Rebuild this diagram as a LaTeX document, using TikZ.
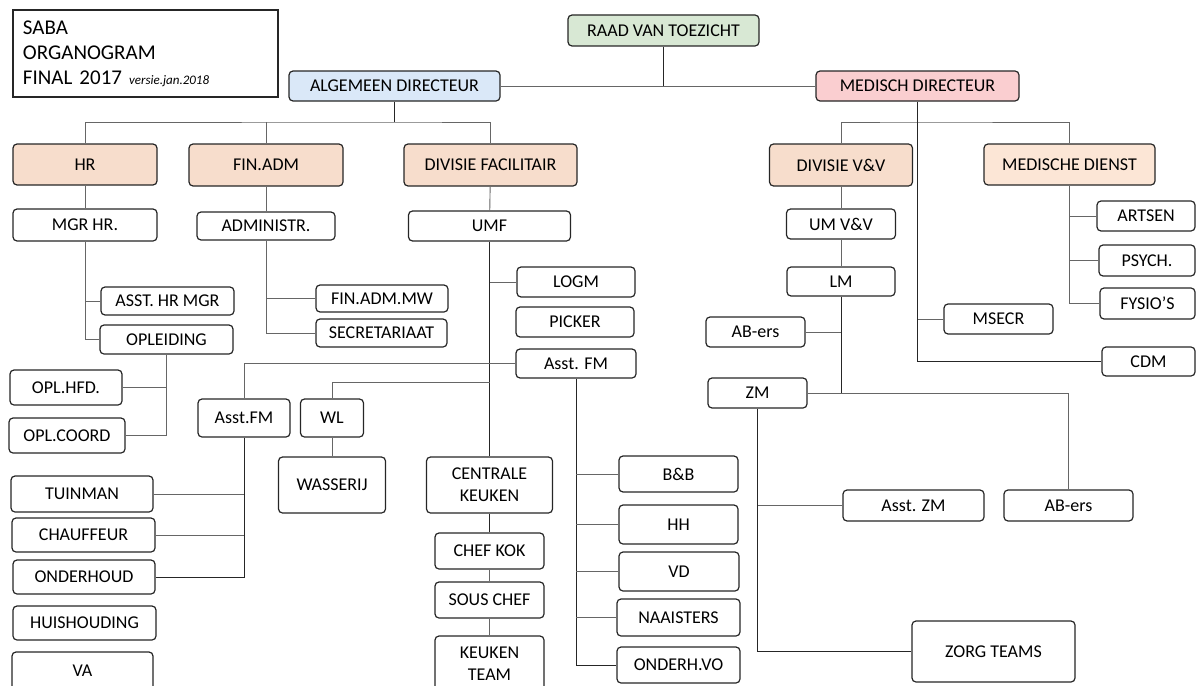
\documentclass[tikz,border=0pt]{standalone}
\usepackage{fontspec}
\setmainfont{Carlito}
\usetikzlibrary{positioning}

\definecolor{raadgreen}{RGB}{216,232,212}
\definecolor{dirblue}{RGB}{218,232,248}
\definecolor{dirpink}{RGB}{250,206,208}
\definecolor{divpeach}{RGB}{247,221,204}
\definecolor{dienstpeach}{RGB}{252,230,214}

\tikzset{
  orgbox/.style={draw=black!85, line width=1.2pt, rounded corners=4pt, inner sep=0pt,
    align=center, text=black, font=\fontsize{18}{22}\selectfont},
  link/.style={draw=black!60, line width=0.9pt},
  linkdark/.style={draw=black!85, line width=0.9pt},
}

\begin{document}
\begin{tikzpicture}[x=1pt,y=-1pt]
  \useasboundingbox (0,0) rectangle (1196,685);
  % title block
  \node[draw=black!85, line width=1.2pt, minimum height=87pt, text width=245pt, inner xsep=10pt,
    align=left, font=\fontsize{21}{25}\selectfont] (title) at (145.5,53.5)
    {SABA\\ORGANOGRAM\\FINAL 2017 {\fontsize{13}{15}\selectfont\itshape versie.jan.2018}};
  % boxes: name/x/y/width/height/fill/text
  \foreach \nm/\cx/\cy/\bw/\bh/\bcol/\btxt in {
    raad/663.5/30.5/191/31/raadgreen/{RAAD VAN TOEZICHT},
    alg/394.5/86/211/30/dirblue/{ALGEMEEN DIRECTEUR},
    med/917.5/86/203/30/dirpink/{MEDISCH DIRECTEUR},
    hr/85/164.5/144/41/divpeach/{HR},
    fin/266/165/154/42/divpeach/{FIN.ADM},
    fac/490.5/165/173/42/divpeach/{DIVISIE FACILITAIR},
    vv/841/165/143/42/divpeach/{DIVISIE V\&V},
    mdienst/1069.5/164.5/171/41/dienstpeach/{MEDISCHE DIENST},
    mgrhr/85/225/144/32/white/{MGR HR.},
    adm/266/226/138/28/white/{ADMINISTR.},
    umf/489.5/226/162/30/white/{UMF},
    umvv/841/224/109/30/white/{UM V\&V},
    artsen/1146/216/98/30/white/{ARTSEN},
    psych/1147/260.5/96/31/white/{PSYCH.},
    fysio/1147.5/303.5/95/31/white/{FYSIO'S},
    asshr/167.5/301/133/28/white/{ASST. HR MGR},
    opl/166.5/339.5/133/29/white/{OPLEIDING},
    oplhfd/66/387.5/112/35/white/{OPL.HFD.},
    oplcoord/67/435.5/116/35/white/{OPL.COORD},
    finmw/382/298.5/132/27/white/{FIN.ADM.MW},
    secr/381.5/333/131/28/white/{SECRETARIAAT},
    logm/576/282/118/30/white/{LOGM},
    picker/575/322/118/30/white/{PICKER},
    asstfm/576/363.5/120/29/white/{Asst. FM},
    asstfml/244/418/92/38/white/{Asst.FM},
    wl/332/418/63/38/white/{WL},
    wasserij/332/485/107/56/white/{WASSERIJ},
    tuinman/82/494/142/36/white/{TUINMAN},
    chauffeur/83.5/535/143/34/white/{CHAUFFEUR},
    onderhoud/84/577/142/34/white/{ONDERHOUD},
    huish/84.5/623/143/34/white/{HUISHOUDING},
    va/82.5/671/141/38/white/{VA},
    ckeuken/489.5/485/126/56/white/{CENTRALE\\KEUKEN},
    chefkok/489.5/551/109/36/white/{CHEF KOK},
    souschef/489.5/600/109/36/white/{SOUS CHEF},
    kteam/489.5/664/109/56/white/{KEUKEN\\TEAM},
    bb/678.5/474/119/36/white/{B\&B},
    hh/678.5/524.5/119/39/white/{HH},
    vd/679/571.5/120/39/white/{VD},
    naai/678.5/617.5/123/37/white/{NAAISTERS},
    onderhvo/678.5/665/123/36/white/{ONDERH.VO},
    lm/841/281.5/108/29/white/{LM},
    abl/755.5/332/99/30/white/{AB-ers},
    zm/757.5/393/99/30/white/{ZM},
    msecr/998.5/319/109/30/white/{MSECR},
    cdm/1148.5/361.5/93/29/white/{CDM},
    asstzm/913.5/505.5/141/31/white/{Asst. ZM},
    abr/1068.5/505.5/129/31/white/{AB-ers},
    zorg/993.5/651.5/163/61/white/{ZORG TEAMS}}
    \node[orgbox, fill=\bcol, minimum width=\bw pt, minimum height=\bh pt] (\nm) at (\cx,\cy) {\btxt};

  % top level
  \coordinate (algbus) at (394.5,122);
  \coordinate (medbus) at (917.5,122);
  \draw[linkdark] (raad.south) -- (raad.south |- alg.east);
  \draw[link] (alg.east) -- (med.west);
  \draw[linkdark] (alg.south) -- (algbus);
  \draw[link] (hr.north) |- (algbus) -| (fac.north);
  \draw[link] (fin.north) -- (fin.north |- algbus);
  \draw[link] (vv.north) |- (medbus) -| (mdienst.north);
  \draw[linkdark] (med.south) |- (cdm.west);
  \draw[link] (msecr.west) -- (msecr.west -| med.south);

  % HR
  \draw[link] (hr) -- (mgrhr);
  \draw[link] (mgrhr.south) |- (opl.west);
  \draw[link] (asshr.west) -- (asshr.west -| mgrhr.south);
  \draw[link] (opl.south) |- (oplcoord.east);
  \draw[link] (oplhfd.east) -- (oplhfd.east -| opl.south);

  % FIN.ADM
  \draw[link] (fin) -- (adm);
  \draw[link] (adm.south) |- (secr.west);
  \draw[link] (finmw.west) -- (finmw.west -| adm.south);

  % facilitair
  \coordinate (wlbus) at (489.5,382);
  \draw[link] (fac) -- (umf);
  \draw[linkdark] (umf.south) -- (ckeuken.north);
  \draw[link] (logm.west) -- (logm.west -| umf.south);
  \draw[link] (asstfm.west) -| (asstfml.north);
  \draw[link] (wl.north) |- (wlbus);
  \draw[link] (wl) -- (wasserij);
  \draw[linkdark] (asstfml.south) |- (onderhoud.east);
  \draw[link] (tuinman.east) -- (tuinman.east -| asstfml.south);
  \draw[link] (chauffeur.east) -- (chauffeur.east -| asstfml.south);
  \draw[linkdark] (ckeuken) -- (chefkok);
  \draw[link] (chefkok) -- (souschef);
  \draw[link] (souschef) -- (kteam);
  \draw[linkdark] (asstfm.south) |- (onderhvo.west);
  \foreach \nm in {bb,hh,vd,naai}
    \draw[link] (\nm.west) -- (\nm.west -| asstfm.south);

  % V&V
  \draw[link] (vv) -- (umvv);
  \draw[link] (umvv) -- (lm);
  \draw[linkdark] (lm.south) -- (lm.south |- zm.east);
  \draw[link] (abl.east) -- (abl.east -| lm.south);
  \draw[link] (zm.east) -| (abr.north);
  \draw[linkdark] (zm.south) |- (zorg.west);
  \draw[link] (asstzm.west) -- (asstzm.west -| zm.south);

  % medische dienst
  \draw[link] (mdienst.south) |- (fysio.west);
  \draw[link] (artsen.west) -- (artsen.west -| mdienst.south);
  \draw[link] (psych.west) -- (psych.west -| mdienst.south);
\end{tikzpicture}
\end{document}
